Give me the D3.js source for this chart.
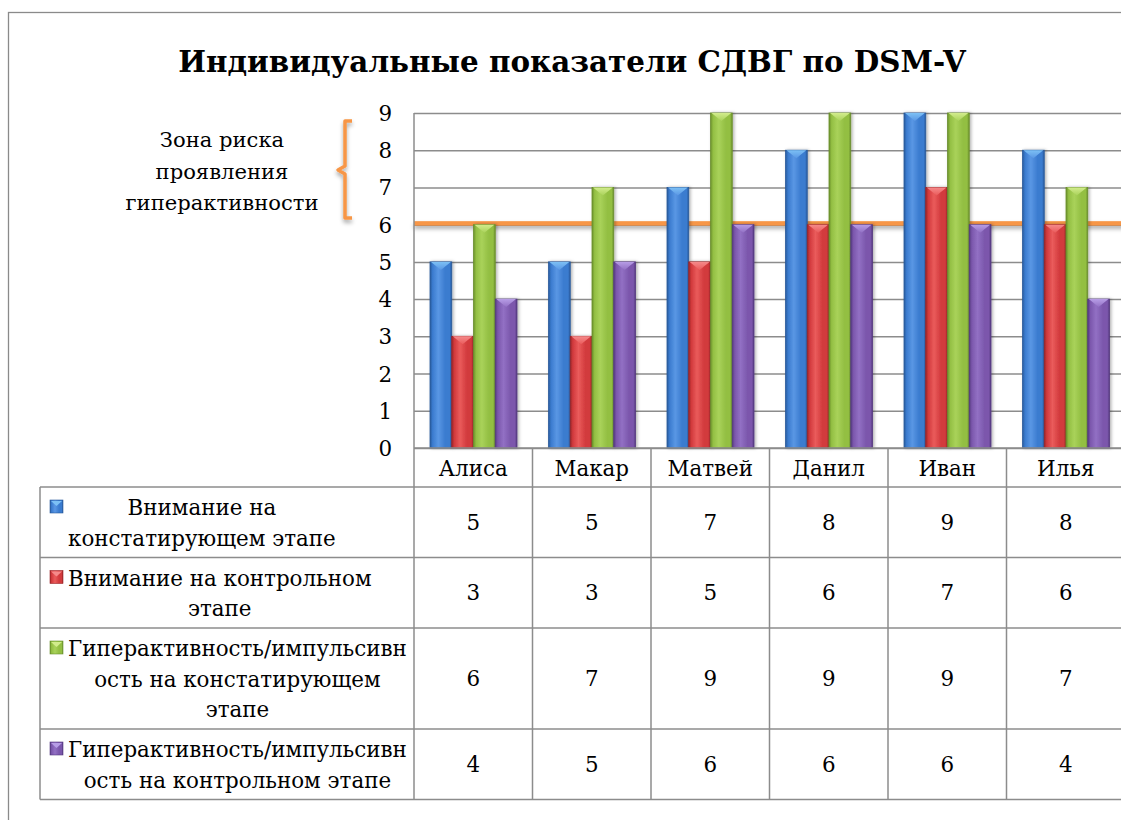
<!DOCTYPE html>
<html><head><meta charset="utf-8">
<script src="https://cdn.jsdelivr.net/npm/d3@7/dist/d3.min.js"></script>
</head><body style="margin:0;background:#fff">
<svg id="c" width="1121" height="820" style="display:block"></svg>
<script>
// ---- data ----
const categories = ["Алиса","Макар","Матвей","Данил","Иван","Илья"];
const attentionInitial = [5,5,7,8,9,8];
const attentionControl = [3,3,5,6,7,6];
const hyperInitial = [6,7,9,9,9,7];
const hyperControl = [4,5,6,6,6,4];
const seriesValues = [attentionInitial, attentionControl, hyperInitial, hyperControl];
const legendLines = [
  ["Внимание на","констатирующем этапе"],
  ["Внимание на контрольном","этапе"],
  ["Гиперактивность/импульсивн","ость на констатирующем","этапе"],
  ["Гиперактивность/импульсивн","ость на контрольном этапе"]
];
const yTicks = [0,1,2,3,4,5,6,7,8,9];
const riskThreshold = 6;
const annotationLines = ["Зона риска","проявления","гиперактивности"];
const titleText = "Индивидуальные показатели СДВГ по DSM-V";

// ---- styles ----
const palette = [
  {edge:"#295a9c", base:"#3a7bcf", light:"#5a97e4", top:"#7cc0f5"},
  {edge:"#9c2628", base:"#d23a3d", light:"#ea5b5b", top:"#f58a8a"},
  {edge:"#6a8f2c", base:"#93bf43", light:"#a9d25a", top:"#d2ec8c"},
  {edge:"#553a80", base:"#7b57ac", light:"#9270c4", top:"#b79de6"}
];
const gridColor = "#8c8c8c";
const FONT = "DejaVu Serif";

const svg = d3.select("#c");
const serif = sel => sel.attr("font-family", FONT).attr("fill", "#000");

// fit font sizes so that text widths match the layout
const probe = svg.append("text").call(serif).attr("x", -9999).attr("y", -9999);
const fitSize = (txt, targetW, bold) => {
  probe.attr("font-weight", bold ? "bold" : "normal").attr("font-size", 20).text(txt);
  return 20 * targetW / probe.node().getComputedTextLength();
};
const titleSize = fitSize(titleText, 788, true);
const fontSize = fitSize("Гиперактивность/импульсивн", 339, false);
const annSize = fitSize("гиперактивности", 193, false);
probe.remove();

const plotLeft = 414, plotTop = 113, plotBottom = 448, colW = 118.5;
const plotRight = plotLeft + colW * categories.length;

const defs = svg.append("defs");
palette.forEach((p, i) => {
  const g = defs.append("linearGradient").attr("id", "g" + i).attr("x1", 0).attr("x2", 1).attr("y1", 0).attr("y2", 0);
  [[0, p.edge],[0.12, p.base],[0.38, p.light],[0.7, p.base],[0.9, p.base],[1, p.edge]].forEach(s =>
    g.append("stop").attr("offset", s[0]).attr("stop-color", s[1]));
  const t = defs.append("linearGradient").attr("id", "t" + i).attr("x1", 0).attr("x2", 0).attr("y1", 0).attr("y2", 1);
  t.append("stop").attr("offset", 0).attr("stop-color", p.top);
  t.append("stop").attr("offset", 1).attr("stop-color", p.light);
});
const sh = defs.append("filter").attr("id", "sh").attr("filterUnits", "userSpaceOnUse")
  .attr("x", 0).attr("y", 0).attr("width", 1200).attr("height", 820);
sh.append("feDropShadow").attr("dx", 0).attr("dy", 3).attr("stdDeviation", 2).attr("flood-color", "#000").attr("flood-opacity", 0.35);
const bsh = defs.append("filter").attr("id", "bsh").attr("x", "-30%").attr("y", "-5%").attr("width", "160%").attr("height", "110%");
bsh.append("feDropShadow").attr("dx", 1.5).attr("dy", 0).attr("stdDeviation", 1.5).attr("flood-color", "#000").attr("flood-opacity", 0.3);

// frame
svg.append("rect").attr("x", 8.5).attr("y", 12.5).attr("width", 1300).attr("height", 1000)
  .attr("fill", "none").attr("stroke", "#8a8a8a").attr("stroke-width", 1.3);

// title
svg.append("text").attr("x", 572).attr("y", 72).attr("text-anchor", "middle")
  .attr("font-weight", "bold").attr("font-size", titleSize).call(serif).text(titleText);

// scales
const y = d3.scaleLinear().domain([0, 9]).range([plotBottom, plotTop]);
const x0 = d3.scaleBand().domain(categories).range([plotLeft, plotRight]).padding(0);
const x1 = d3.scaleBand().domain(d3.range(seriesValues.length)).range([16, 103]).padding(0);

// gridlines
svg.append("g").attr("transform", `translate(${plotLeft},0)`)
  .call(d3.axisLeft(y).tickValues(yTicks).tickSize(-(plotRight - plotLeft)).tickFormat(""))
  .call(g => g.select(".domain").remove())
  .call(g => g.selectAll("line").attr("stroke", gridColor).attr("stroke-width", 1.5));

// y labels
svg.append("g").attr("transform", `translate(${plotLeft},0)`)
  .call(d3.axisLeft(y).tickValues(yTicks).tickSize(0).tickPadding(22))
  .attr("font-size", fontSize).call(serif)
  .call(g => g.select(".domain").remove())
  .call(g => g.selectAll("text").attr("font-size", fontSize).call(serif).attr("dy", "0.35em"));

// risk threshold line (behind bars)
svg.append("rect").attr("x", plotLeft).attr("width", plotRight - plotLeft)
  .attr("y", y(riskThreshold) - 3.5).attr("height", 4.5)
  .attr("fill", "#f79646").attr("filter", "url(#sh)");

// bars
const triH = 8;
const groups = svg.append("g").selectAll("g").data(categories).join("g")
  .attr("transform", d => `translate(${x0(d)},0)`);
groups.each(function(cat, ci) {
  const g = d3.select(this);
  seriesValues.forEach((vals, si) => {
    const v = vals[ci];
    const bx = x1(si), bw = x1.bandwidth(), top = y(v);
    const bar = g.append("g").attr("filter", "url(#bsh)");
    bar.append("rect").attr("x", bx).attr("y", top).attr("width", bw).attr("height", y(0) - top)
      .attr("fill", `url(#g${si})`).attr("stroke", palette[si].edge).attr("stroke-width", 0.8);
    bar.append("path").attr("d", `M${bx + 1},${top} L${bx + bw - 1},${top} L${bx + bw / 2},${top + triH} Z`)
      .attr("fill", `url(#t${si})`);
  });
});

// axis line
svg.append("line").attr("x1", plotLeft).attr("x2", plotLeft).attr("y1", plotTop).attr("y2", plotBottom)
  .attr("stroke", gridColor).attr("stroke-width", 1.5);

// ---- data table ----
const tableLeft = 40, lineH = 30.5, headerH = 39;
const rowHeights = legendLines.map(l => l.length * lineH + 9.5);
const rowTops = [];
let acc = plotBottom + headerH;
rowHeights.forEach(h => { rowTops.push(acc); acc += h; });
const tableBottom = acc;
const tbl = svg.append("g");
const ln = (x1_, y1_, x2_, y2_) => tbl.append("line").attr("x1", x1_).attr("y1", y1_).attr("x2", x2_).attr("y2", y2_)
  .attr("stroke", gridColor).attr("stroke-width", 1.5);
ln(plotLeft, plotBottom, plotRight, plotBottom);
[...rowTops, tableBottom].forEach(t => ln(tableLeft, t, plotRight, t));
ln(tableLeft, rowTops[0], tableLeft, tableBottom);
ln(plotLeft, plotBottom, plotLeft, tableBottom);
categories.forEach(c => ln(x0(c) + colW, plotBottom, x0(c) + colW, tableBottom));

// header labels
tbl.selectAll(".cat").data(categories).join("text")
  .attr("x", d => x0(d) + colW / 2).attr("y", plotBottom + headerH / 2 + 1)
  .attr("dy", "0.35em").attr("text-anchor", "middle").attr("font-size", fontSize).call(serif).text(d => d);

// values
seriesValues.forEach((vals, si) => {
  tbl.selectAll(".v" + si).data(vals).join("text")
    .attr("x", (d, i) => x0(categories[i]) + colW / 2)
    .attr("y", rowTops[si] + rowHeights[si] / 2)
    .attr("dy", "0.35em").attr("text-anchor", "middle").attr("font-size", fontSize).call(serif).text(d => d);
});

// legend cells
const textLeft = 68;
legendLines.forEach((lines, si) => {
  const top = rowTops[si];
  const firstY = top + 21;
  const key = tbl.append("g");
  const kx = 50, ky = firstY - 8, ks = 13;
  key.append("rect").attr("x", kx).attr("y", ky).attr("width", ks).attr("height", ks)
    .attr("fill", `url(#g${si})`).attr("stroke", palette[si].edge).attr("stroke-width", 0.6);
  key.append("path").attr("d", `M${kx + 1},${ky + 1} L${kx + ks - 1},${ky + 1} L${kx + ks / 2},${ky + 6} Z`).attr("fill", palette[si].top);
  const ts = lines.map((t, li) => tbl.append("text").attr("y", firstY + li * lineH).attr("dy", "0.35em")
    .attr("font-size", fontSize).call(serif).attr("text-anchor", "middle").text(t));
  const maxW = d3.max(ts, t => t.node().getComputedTextLength());
  ts.forEach(t => t.attr("x", textLeft + maxW / 2));
});

// annotation
const ann = svg.append("g");
annotationLines.forEach((t, i) => ann.append("text").attr("x", 222).attr("y", 140 + i * 31.5).attr("dy", "0.35em")
  .attr("text-anchor", "middle").attr("font-size", annSize).call(serif).text(t));
ann.append("path")
  .attr("d", "M352,121 L345,121 L345,166 L338,170 L345,174 L345,218 L352,218")
  .attr("fill", "none").attr("stroke", "#f79646").attr("stroke-width", 3.5).attr("stroke-linejoin", "round")
  .attr("filter", "url(#sh)");
</script></body></html>
